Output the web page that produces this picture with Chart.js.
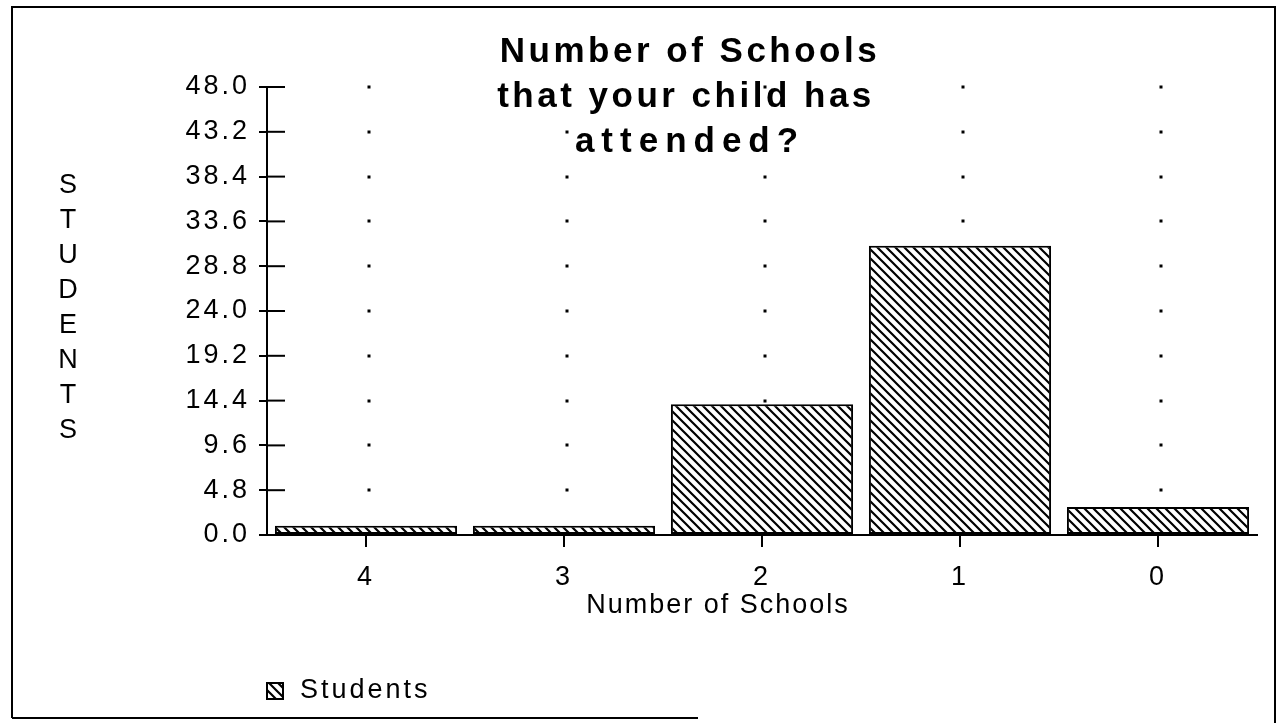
<!DOCTYPE html>
<html>
<head>
<meta charset="utf-8">
<script src="https://cdn.jsdelivr.net/npm/chart.js@4/dist/chart.umd.min.js"></script>
<style>
  html, body { margin: 0; padding: 0; background: #fff; }
  #chart { display: block; }
</style>
</head>
<body>
<canvas id="chart" width="1279" height="723"></canvas>
<script>
const categories = ['4', '3', '2', '1', '0'];
const students = [1, 1, 14, 31, 3];
const yTicks = [0, 4.8, 9.6, 14.4, 19.2, 24.0, 28.8, 33.6, 38.4, 43.2, 48.0];
const titleLines = ['Number of Schools', 'that your child has', 'attended?'];
const yTitle = 'STUDENTS';
const xTitle = 'Number of Schools';
const seriesLabel = 'Students';

const FONT = '"Liberation Sans", Arial, sans-serif';

// backslash hatch
function makeHatch(size, width) {
    const c = document.createElement('canvas');
    c.width = size; c.height = size;
    const g = c.getContext('2d');
    g.fillStyle = '#fff';
    g.fillRect(0, 0, size, size);
    g.strokeStyle = '#000';
    g.lineWidth = width;
    g.beginPath();
    g.moveTo(-2, -2); g.lineTo(size + 2, size + 2);
    g.moveTo(-2, size - 2); g.lineTo(2, size + 2);
    g.moveTo(size - 2, -2); g.lineTo(size + 2, 2);
    g.stroke();
    return g.createPattern(c, 'repeat');
}
const hatch = makeHatch(9, 2.2);

const spacingPlugin = {
    id: 'spacing',
    beforeUpdate(chart) { chart.ctx.letterSpacing = '3px'; },
    beforeDraw(chart) {
        const ctx = chart.ctx;
        ctx.save();
        ctx.fillStyle = '#fff';
        ctx.fillRect(0, 0, chart.width, chart.height);
        ctx.restore();
        ctx.letterSpacing = '3px';
    }
};

const decorPlugin = {
    id: 'decor',
    beforeDatasetsDraw(chart) {
        const ctx = chart.ctx;
        const x = chart.scales.x, y = chart.scales.y;
        ctx.save();
        ctx.fillStyle = '#000';
        // dotted grid: a dot at each category / tick crossing
        categories.forEach((c, i) => {
            const px = x.getPixelForValue(i) + 3;
            yTicks.forEach(v => {
                if (v === 0) return;
                ctx.fillRect(Math.round(px) - 1.5, Math.round(y.getPixelForValue(v)) - 1.5, 3, 3);
            });
        });
        // inner half of the y tick crosses
        ctx.strokeStyle = '#000';
        ctx.lineWidth = 2;
        yTicks.forEach(v => {
            const py = y.getPixelForValue(v);
            ctx.beginPath();
            ctx.moveTo(x.left, py);
            ctx.lineTo(x.left + 18, py);
            ctx.stroke();
        });
        ctx.restore();
    },
    afterDraw(chart) {
        const ctx = chart.ctx;
        ctx.save();
        ctx.fillStyle = '#000';
        ctx.textBaseline = 'middle';
        ctx.textAlign = 'center';

        // title
        ctx.font = 'bold 35px ' + FONT;
        ctx.letterSpacing = '3.5px';
        ctx.fillText(titleLines[0], 690, 52);
        ctx.fillText(titleLines[1], 686, 97);
        ctx.letterSpacing = '7px';
        ctx.fillText(titleLines[2], 690, 142);

        // y title, stacked letters
        ctx.font = '27px ' + FONT;
        ctx.letterSpacing = '0px';
        yTitle.split('').forEach((ch, i) => ctx.fillText(ch, 68, 186 + i * 35));

        // x title
        ctx.letterSpacing = '2px';
        ctx.fillText(xTitle, 718, 606);

        // legend
        ctx.textAlign = 'left';
        ctx.letterSpacing = '3px';
        ctx.fillText(seriesLabel, 300, 691);
        ctx.fillStyle = hatch;
        ctx.fillRect(267, 683, 16, 16);
        ctx.strokeStyle = '#000';
        ctx.lineWidth = 2;
        ctx.strokeRect(267, 683, 16, 16);

        // frame
        ctx.beginPath();
        ctx.moveTo(12, 718); ctx.lineTo(12, 7); ctx.lineTo(1275, 7); ctx.lineTo(1275, 723);
        ctx.moveTo(12, 718); ctx.lineTo(698, 718);
        ctx.stroke();
        ctx.restore();
    }
};

new Chart(document.getElementById('chart'), {
    type: 'bar',
    data: {
        labels: categories,
        datasets: [{
            label: seriesLabel,
            data: students,
            backgroundColor: hatch,
            borderColor: '#000',
            borderWidth: 2,
            borderSkipped: false,
            barPercentage: 0.92,
            categoryPercentage: 1.0
        }]
    },
    options: {
        responsive: false,
        animation: false,
        events: [],
        layout: { padding: { top: 87, right: 22, left: 0, bottom: 0 } },
        plugins: { legend: { display: false }, title: { display: false }, tooltip: { enabled: false } },
        scales: {
            x: {
                offset: true,
                grid: { offset: false, drawOnChartArea: false, drawTicks: true, tickLength: 12, color: '#000', lineWidth: 2 },
                border: { display: true, color: '#000', width: 2 },
                ticks: { color: '#000', font: { family: FONT, size: 27 }, padding: 14, maxRotation: 0 },
                afterFit(scale) { scale.height = 723 - 535; }
            },
            y: {
                min: 0,
                max: 48,
                afterBuildTicks(scale) { scale.ticks = yTicks.map(v => ({ value: v })); },
                grid: { drawOnChartArea: false, drawTicks: true, tickLength: 8, color: '#000', lineWidth: 2 },
                border: { display: true, color: '#000', width: 2 },
                ticks: { color: '#000', font: { family: FONT, size: 27 }, padding: 9, callback: v => v.toFixed(1) },
                afterFit(scale) { scale.width = 267; }
            }
        }
    },
    plugins: [spacingPlugin, decorPlugin]
});
</script>
</body>
</html>
